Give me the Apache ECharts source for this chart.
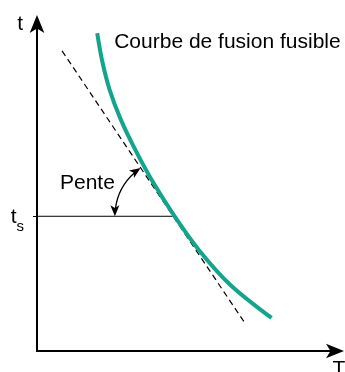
<!DOCTYPE html>
<html>
<head>
<meta charset="utf-8">
<script src="https://cdn.jsdelivr.net/npm/echarts@6/dist/echarts.min.js"></script>
<style>
  html, body { margin: 0; padding: 0; background: #fff; }
  #chart { width: 345px; height: 372px; }
</style>
</head>
<body>
<div id="chart"></div>
<script>
// Fuse melting curve: time t against current T (arbitrary units)
const curveT    = [2.02, 2.18, 2.44, 2.82, 3.30, 3.85, 4.61, 5.43, 6.49, 7.87];
const curveTime = [9.72, 8.90, 7.98, 7.06, 6.15, 5.23, 4.13, 3.09, 2.02, 1.01];

// Tangent line drawn through the operating point
const tangentT    = [0.84, 6.95];
const tangentTime = [9.18, 0.89];

// Operating point (t_s on the time axis)
const tsValue = 4.12;
const tangentPointT = 4.56;

const curveName = 'Courbe de fusion fusible';
const slopeName = 'Pente';
const timeAxisName = 't';
const currentAxisName = 'T';

const FONT = "'Liberation Sans', Arial, Helvetica, sans-serif";
const GREEN = '#12a58b';

const chart = echarts.init(document.getElementById('chart'), null, { renderer: 'canvas' });

const curveData = curveT.map((T, i) => {
  if (i === 0) {
    return {
      value: [T, curveTime[i]],
      label: {
        show: true,
        formatter: curveName,
        position: 'right',
        distance: 17,
        offset: [0, 9],
        color: '#000',
        fontSize: 21,
        fontFamily: FONT
      }
    };
  }
  return [T, curveTime[i]];
});

// Angle arc with arrowheads between the horizontal and the tangent
function renderSlope(params, api) {
  const c = api.coord([api.value(0), api.value(1)]);
  const up = api.coord([tangentT[0], tangentTime[0]]);
  const r = 58;
  const L = 11, w = 4.5;
  const a1 = Math.PI;
  let a2 = Math.atan2(up[1] - c[1], up[0] - c[0]);
  if (a2 < 0) a2 += Math.PI * 2;

  function head(angle, dir) {
    const tip = [c[0] + r * Math.cos(angle), c[1] + r * Math.sin(angle)];
    const d = dir > 0 ? [-Math.sin(angle), Math.cos(angle)] : [Math.sin(angle), -Math.cos(angle)];
    const n = [-d[1], d[0]];
    const base = [tip[0] - L * d[0], tip[1] - L * d[1]];
    const notch = [tip[0] - 0.75 * L * d[0], tip[1] - 0.75 * L * d[1]];
    return {
      type: 'polygon',
      shape: { points: [tip, [base[0] + w * n[0], base[1] + w * n[1]], notch, [base[0] - w * n[0], base[1] - w * n[1]]] },
      style: { fill: '#000' }
    };
  }

  const da = (L * 0.7) / r;
  return {
    type: 'group',
    children: [
      {
        type: 'arc',
        shape: { cx: c[0], cy: c[1], r: r, startAngle: a1 + da, endAngle: a2 - da, clockwise: true },
        style: { stroke: '#000', fill: null, lineWidth: 1.3 }
      },
      head(a1, -1),
      head(a2, 1),
      {
        type: 'text',
        x: c[0] - r,
        y: c[1] - 33,
        style: {
          text: slopeName,
          fill: '#000',
          fontSize: 21,
          fontFamily: FONT,
          align: 'right',
          verticalAlign: 'middle'
        }
      }
    ]
  };
}

const option = {
  animation: false,
  backgroundColor: '#fff',
  grid: { left: 37, right: 10, top: 24, bottom: 21, containLabel: false, outerBoundsMode: 'none' },
  xAxis: {
    type: 'value',
    min: 0,
    max: 10,
    name: currentAxisName,
    nameLocation: 'end',
    nameGap: 4,
    nameTextStyle: { color: '#000', fontSize: 21, fontFamily: FONT, align: 'center', verticalAlign: 'top', padding: [8, 0, 0, 0] },
    axisLine: { show: true, symbol: ['none', 'arrow'], symbolSize: [11, 18], symbolOffset: [0, 9], lineStyle: { color: '#000', width: 2 } },
    axisTick: { show: false },
    axisLabel: { show: false },
    splitLine: { show: false }
  },
  yAxis: {
    type: 'value',
    min: 0,
    max: 10,
    name: timeAxisName,
    nameLocation: 'end',
    nameGap: -11,
    nameTextStyle: { color: '#000', fontSize: 21, fontFamily: FONT, align: 'right', verticalAlign: 'bottom', padding: [0, 14, 0, 0] },
    axisLine: { show: true, symbol: ['none', 'arrow'], symbolSize: [11, 18], symbolOffset: [0, 9], lineStyle: { color: '#000', width: 2 } },
    axisTick: { show: true, customValues: [tsValue], length: 4, lineStyle: { color: '#000', width: 1 } },
    axisLabel: {
      show: true,
      customValues: [tsValue],
      margin: 13,
      padding: [8, 0, 0, 0],
      formatter: () => '{t|t}{s|s}',
      rich: {
        t: { fontSize: 21, fontFamily: FONT, color: '#000', verticalAlign: 'bottom', padding: [0, 0, 7, 0] },
        s: { fontSize: 15, fontFamily: FONT, color: '#000', verticalAlign: 'bottom' }
      }
    },
    splitLine: { show: false }
  },
  series: [
    {
      type: 'line',
      data: [[0, tsValue], [tangentPointT, tsValue]],
      symbol: 'none',
      lineStyle: { color: '#000', width: 1 },
      z: 2
    },
    {
      type: 'line',
      data: tangentT.map((T, i) => [T, tangentTime[i]]),
      symbol: 'none',
      lineStyle: { color: '#000', width: 1.2, type: [6, 4] },
      z: 3
    },
    {
      type: 'line',
      name: curveName,
      data: curveData,
      smooth: 0.3,
      symbol: 'circle',
      symbolSize: 0,
      showSymbol: true,
      itemStyle: { color: GREEN },
      lineStyle: { color: GREEN, width: 4 },
      z: 4
    },
    {
      type: 'custom',
      data: [[tangentPointT, tsValue]],
      renderItem: renderSlope,
      clip: false,
      z: 5
    }
  ]
};

chart.setOption(option);
</script>
</body>
</html>
